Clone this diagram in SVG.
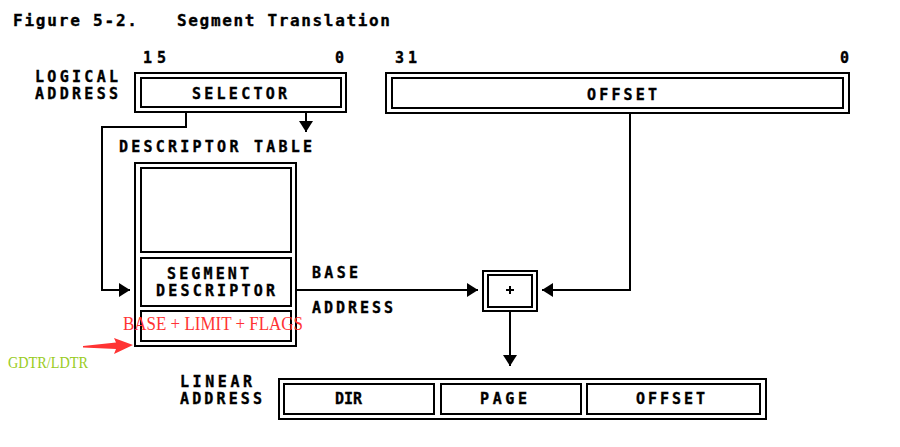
<svg xmlns="http://www.w3.org/2000/svg" width="900" height="447" viewBox="0 0 900 447">
<defs>
<style>
.bx{fill:none;stroke:#000;stroke-width:2}
.ln{fill:none;stroke:#000;stroke-width:2}
.t{font-family:"DejaVu Sans Mono","Liberation Mono",monospace;font-weight:bold;font-size:15px;fill:#000;stroke:#000;stroke-width:0.35}
.red{font-family:"Liberation Serif","DejaVu Serif",serif;font-size:18px;fill:#ff3333}
.grn{font-family:"Liberation Serif","DejaVu Serif",serif;font-size:16px;fill:#99cc22}
</style>
<marker id="ah" markerUnits="userSpaceOnUse" markerWidth="11" markerHeight="14" refX="11" refY="7" orient="auto">
<path d="M0,0 L11,7 L0,14 z" fill="#000"/>
</marker>
</defs>
<rect width="900" height="447" fill="#fff"/>
<g id="title">
<text class="t" x="13" y="26" textLength="124" style="font-size:16px">Figure 5-2.</text>
<text class="t" x="177" y="26" textLength="213" style="font-size:16px">Segment Translation</text>
</g>
<g id="logical-label">
<text class="t" x="35" y="82" textLength="83">LOGICAL</text>
<text class="t" x="35" y="99" textLength="83">ADDRESS</text>
</g>
<g id="bits">
<text class="t" x="143" y="63" textLength="23">15</text>
<text class="t" x="335" y="63">0</text>
<text class="t" x="395" y="63" textLength="22">31</text>
<text class="t" x="840" y="63">0</text>
</g>
<g id="selector">
<rect class="bx" x="135" y="73" width="211" height="39"/>
<rect class="bx" x="141" y="78" width="200" height="29"/>
<text class="t" x="192" y="99" textLength="95">SELECTOR</text>
</g>
<g id="offset">
<rect class="bx" x="386" y="73" width="463" height="40"/>
<rect class="bx" x="392" y="78" width="451" height="30"/>
<text class="t" x="587" y="100" textLength="70">OFFSET</text>
</g>
<g id="descriptor-table">
<text class="t" x="119" y="152" textLength="193">DESCRIPTOR TABLE</text>
<rect class="bx" x="135" y="163" width="161" height="183"/>
<rect class="bx" x="141" y="168" width="150" height="84"/>
<rect class="bx" x="141" y="258" width="150" height="48"/>
<rect class="bx" x="141" y="311" width="150" height="30"/>
<text class="t" x="167" y="279" textLength="82">SEGMENT</text>
<text class="t" x="156" y="296" textLength="119">DESCRIPTOR</text>
<text class="red" x="123" y="330" textLength="180" lengthAdjust="spacingAndGlyphs">BASE + LIMIT + FLAGS</text>
</g>
<g id="base-address-label">
<text class="t" x="312" y="278" textLength="46">BASE</text>
<text class="t" x="312" y="313" textLength="81">ADDRESS</text>
</g>
<g id="adder">
<rect class="bx" x="483" y="271" width="54" height="40"/>
<rect class="bx" x="488" y="275" width="44" height="32"/>
<path d="M506,290 H514 M510,286 V294" stroke="#000" stroke-width="2"/>
</g>
<g id="linear-label">
<text class="t" x="180" y="387" textLength="72">LINEAR</text>
<text class="t" x="180" y="404" textLength="82">ADDRESS</text>
</g>
<g id="linear-address">
<rect class="bx" x="279" y="379" width="487" height="40"/>
<rect class="bx" x="284" y="384" width="150" height="30"/>
<rect class="bx" x="441" y="384" width="140" height="30"/>
<rect class="bx" x="587" y="384" width="173" height="30"/>
<text class="t" x="335" y="404" textLength="27">DIR</text>
<text class="t" x="480" y="404" textLength="47">PAGE</text>
<text class="t" x="636" y="404" textLength="69">OFFSET</text>
</g>
<g id="gdtr">
<text class="grn" x="8" y="368" textLength="80" lengthAdjust="spacingAndGlyphs">GDTR/LDTR</text>
<path d="M83,346 L116,342.5 L114,338 L133,345 L114,354 L116,349 L83,347.5 z" fill="#ff3333"/>
</g>
<g id="connectors">
<path class="ln" d="M186,113 V127 H102 V290 H130" marker-end="url(#ah)"/>
<path class="ln" d="M306,113 V132" marker-end="url(#ah)"/>
<path class="ln" d="M296,290 H478" marker-end="url(#ah)"/>
<path class="ln" d="M630,114 V290 H542" marker-end="url(#ah)"/>
<path class="ln" d="M510,312 V366" marker-end="url(#ah)"/>
</g>
</svg>
